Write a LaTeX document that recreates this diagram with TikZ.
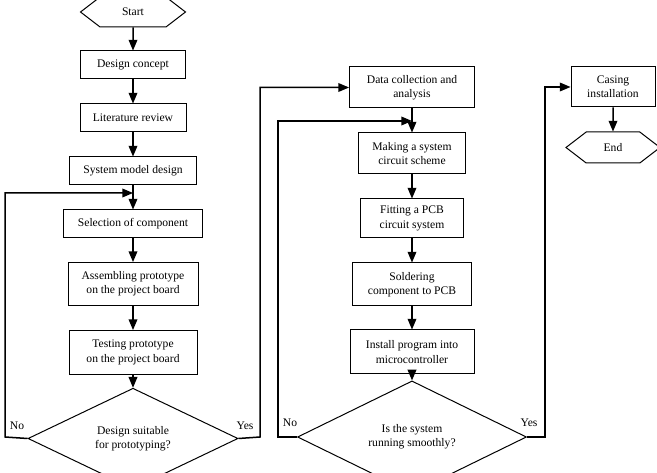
\documentclass[tikz,border=0pt]{standalone}
\usepackage{fontspec}
\setmainfont{Liberation Serif}
\usetikzlibrary{arrows,shapes.geometric,shapes.symbols}

\begin{document}
\begin{tikzpicture}[x=1pt,y=1pt,->,>=triangle 45,line width=1.5pt,node distance=53pt,
                    font=\fontsize{11.6}{14.3}\selectfont]
  \tikzset{box/.style={draw,rectangle,line width=1pt,align=center,
                       minimum width=#1,minimum height=28pt,inner sep=2pt},
           term/.style={draw,signal,signal to=west and east,signal pointer angle=75,
                        line width=1pt,minimum width=105pt,minimum height=30pt,inner sep=0pt},
           check/.style={draw,diamond,line width=1pt,align=center,inner sep=0pt,
                         minimum width=#1,minimum height=76pt}}
  \useasboundingbox (0,0) rectangle (657,-473);

  % first column
  \node[term]          (S) at (133,-12) {Start};
  \node[box=105pt]     (C) [below of=S] {Design concept};
  \node[box=106pt]     (L) [below of=C] {Literature review};
  \node[box=127pt]     (M) [below of=L] {System model design};
  \node[box=139pt]     (K) [below of=M] {Selection of component};
  \node[box=130pt,minimum height=43pt] (A) [below of=K,node distance=60pt]
        {Assembling prototype\\on the project board};
  \node[box=128pt,minimum height=44pt] (T) [below of=A,node distance=68.5pt]
        {Testing prototype\\on the project board};
  \node[check=210pt]   (D1) [below of=T,node distance=86pt]
        {Design suitable\\for prototyping?};

  % second column
  \node[box=125pt,minimum height=41pt] (G) at (412,-87.5) {Data collection and\\analysis};
  \node[box=107pt,minimum height=41pt] (H) [below of=G,node distance=66pt]
        {Making a system\\circuit scheme};
  \node[box=103pt,minimum height=39pt] (F) [below of=H,node distance=65pt]
        {Fitting a PCB\\circuit system};
  \node[box=119pt,minimum height=43pt] (P) [below of=F,node distance=66pt]
        {Soldering\\component to PCB};
  \node[box=124pt,minimum height=44pt] (I) [below of=P,node distance=67.5pt]
        {Install program into\\microcontroller};
  \node[check=229pt]   (D2) [below of=I,node distance=85pt]
        {Is the system\\running smoothly?};

  % third column
  \node[box=84pt,minimum height=40pt] (B) at (613,-87) {Casing\\installation};
  \node[term,minimum width=94pt,minimum height=31pt] (E) [below of=B,node distance=60.5pt] {End};

  \coordinate (J1) at (133,-193);
  \coordinate (J2) at (412,-121);

  \node (no1)  at (17,-426)  {No};
  \node (yes1) at (245,-426) {Yes};
  \node (no2)  at (290,-423) {No};
  \node (yes2) at (529,-423) {Yes};

  \path (S) edge (C)
        (C) edge (L)
        (L) edge (M)
        (M) edge (K)
        (K) edge (A)
        (A) edge (T)
        (T) edge (D1)
        (G) edge (H)
        (H) edge (F)
        (F) edge (P)
        (P) edge (I)
        (I) edge (D2)
        (B) edge (E);

  \draw (D1.west) -- (5,-437) -- (5,-193) -- (J1);
  \draw (D1.east) -- (260,-437) -- (260,-87.5) -- (G.west);
  \draw (D2.west) -- (278,-437) -- (278,-121) -- (J2);
  \draw (D2.east) -- (545,-437) -- (545,-87) -- (B.west);
\end{tikzpicture}
\end{document}
